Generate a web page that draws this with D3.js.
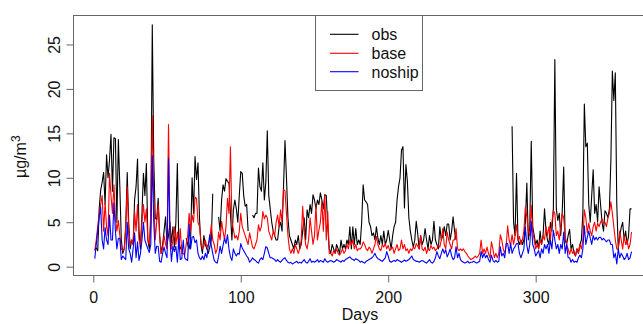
<!DOCTYPE html>
<html>
<head>
<meta charset="utf-8">
<script src="https://cdn.jsdelivr.net/npm/d3@7"></script>
<style>
  body { margin: 0; background: #fff; }
  svg { display: block; font-family: "Liberation Sans", Arial, Helvetica, sans-serif; }
</style>
</head>
<body>
<figure id="chart" style="margin:0"></figure>
<script>
// daily means, day 1..365 (null = missing)
const obs = [
  1.9, 2.1, 1.8, 6.5, 8.6, 9.5, 10.6, 7.0, 12.6, 10.0,
  12.0, 14.9, 8.5, 14.5, 14.4, 5.0, 14.3, 9.0, 3.0, 1.5,
  2.0, 4.5, 10.6, 5.0, 2.0, 3.0, 2.5, 7.5, 9.0, 12.1,
  4.0, 2.0, 6.0, 10.5, 8.0, 11.6, 3.0, 2.0, 5.0, 27.2,
  12.0, 5.5, 5.3, 7.7, 3.5, 1.5, 2.5, 4.0, 5.6, 2.5,
  3.5, 5.0, 2.7, 4.5, 2.2, 5.0, 11.6, 2.5, 2.0, 2.5,
  null, null, 3.2, 2.5, 2.0, 3.0, 10.0, 6.0, 12.4, 9.8,
  11.7, 5.5, 2.5, 1.5, 3.5, 2.5, 2.0, 1.5, 2.2, 3.0,
  8.2, null, null, null, 5.6, 4.0, 7.5, 9.2, 8.5, 9.9,
  9.6, 9.4, 6.0, 3.0, 6.4, 7.5, 6.5, 5.0, 8.0, 10.7,
  10.5, 8.0, 6.8, 7.0, 4.0, null, null, 5.8, 5.5, 6.0,
  6.0, 11.1, 9.0, 8.5, 11.7, 7.5, 9.5, 15.3, 8.0, 6.5,
  5.0, 4.0, 3.5, 3.0, 3.0, 4.5, 5.0, 4.0, 9.0, 14.2,
  10.0, 5.5, 3.5, 3.0, 2.5, 2.0, 3.0, 2.5, 3.5, 2.0,
  2.5, 4.0, 5.5, 3.0, 6.4, 5.5, 7.0, 6.0, 8.1, 7.5,
  6.5, 7.5, 7.0, 8.3, 7.5, 6.5, 8.1, 8.0, 4.5, 2.0,
  1.5, 2.5, 2.0, 1.5, 2.5, 2.0, 1.5, 3.0, 2.0, 2.5,
  2.0, 3.0, 2.5, 4.5, 2.0, 4.5, 2.5, 4.3, 2.5, 3.0,
  2.5, 5.0, 9.2, 7.5, 7.3, 7.0, 5.0, 4.5, 3.5, 3.8,
  3.0, 4.5, 3.2, 2.5, 3.5, 2.5, 4.0, 2.5, 3.0, 4.1,
  3.0, 2.0, 3.5, 4.5, 5.0, 7.5, 9.0, 10.0, 13.1, 13.5,
  6.6, 11.5, 9.6, 5.5, 4.0, 3.0, 2.2, 3.0, 5.1, 3.7,
  2.0, 3.5, 2.5, 3.0, 4.3, 3.0, 2.0, 3.5, 2.5, 3.0,
  5.1, 3.0, 2.5, 2.0, 4.5, 3.0, 3.5, 4.5, 3.5, 4.8,
  4.8, 3.0, 4.0, 5.6, 4.0, 3.0, null, null, null, null,
  null, null, null, null, null, null, null, null, null, null,
  null, null, null, null, null, null, null, null, null, null,
  null, null, null, null, null, null, null, null, null, null,
  null, null, null, 15.8, 5.0, 3.5, 10.5, 3.0, 2.5, 3.0,
  2.5, 3.0, 5.0, 9.4, 3.0, 4.5, 14.1, 4.5, 3.5, 2.5,
  3.0, 2.0, 4.0, 2.5, 3.5, 6.5, 4.0, 3.0, 2.5, 5.0,
  4.0, 6.5, 23.3, 6.5, 5.2, 6.0, 3.5, 6.1, 11.2, 3.0,
  2.5, 3.5, 4.2, 2.0, 2.5, 1.5, 1.2, 2.0, 1.5, 2.5,
  3.0, 6.0, 18.3, 13.5, 13.9, 7.0, 5.0, 8.0, 10.9, 6.0,
  7.0, 5.0, 9.0, 7.0, 5.0, 4.0, 6.3, 6.0, 5.5, 6.5,
  12.0, 22.0, 18.7, 21.8, 7.0, 2.0, 3.5, 4.4, 5.0, 3.0,
  4.0, 2.5, 3.5, 6.5, 6.5
]

const base = [
  1.8, 3.0, 4.5, 6.0, 7.0, 8.0, 4.0, 7.2, 4.5, 3.5,
  10.5, 8.0, 6.0, 9.2, 5.5, 4.0, 5.2, 3.5, 2.0, 1.8,
  2.0, 4.5, 9.0, 4.0, 2.5, 3.0, 2.5, 6.2, 4.0, 7.0,
  3.0, 2.5, 5.0, 7.0, 5.0, 6.5, 3.0, 2.5, 6.0, 17.0,
  8.0, 3.0, 5.0, 7.0, 3.5, 1.5, 2.0, 3.5, 2.5, 2.0,
  16.0, 4.0, 2.0, 3.0, 4.5, 2.5, 3.9, 2.0, 4.3, 1.5,
  1.5, 1.3, 2.5, 3.5, 6.0, 4.0, 5.8, 5.0, 7.8, 7.7,
  5.0, 4.5, 2.8, 2.0, 2.3, 3.0, 2.2, 2.5, 3.0, 4.7,
  3.0, 2.5, 1.5, 2.0, 3.9, 3.0, 5.1, 4.0, 3.0, 4.5,
  7.7, 6.0, 13.5, 5.0, 4.2, 3.2, 3.5, 3.0, 4.0, 6.0,
  4.5, 4.0, 3.5, 3.0, 2.5, 3.8, 3.0, 2.2, 2.0, 2.5,
  3.0, 4.7, 4.0, 4.5, 6.2, 5.4, 5.8, 5.5, 4.0, 3.5,
  3.0, 4.0, 3.5, 5.0, 5.8, 4.5, 6.4, 5.0, 8.7, 8.5,
  6.0, 3.5, 2.0, 1.5, 2.0, 1.5, 2.5, 2.0, 1.5, 2.0,
  3.0, 6.8, 4.0, 2.5, 2.0, 3.0, 5.5, 4.0, 2.5, 3.5,
  6.9, 3.0, 4.1, 5.0, 7.4, 4.0, 8.1, 3.0, 6.2, 1.5,
  1.5, 1.2, 1.8, 1.5, 2.0, 1.5, 1.3, 1.6, 2.0, 1.5,
  1.8, 2.5, 2.0, 3.0, 2.5, 3.0, 2.0, 2.5, 1.8, 2.0,
  2.0, 2.2, 2.8, 2.5, 2.0, 1.8, 2.2, 2.0, 1.5, 2.0,
  2.5, 3.4, 2.5, 2.0, 1.8, 2.5, 2.2, 2.6, 2.0, 2.4,
  1.8, 2.0, 2.2, 1.5, 2.0, 2.5, 1.8, 2.0, 3.0, 2.0,
  2.5, 1.8, 2.0, 1.5, 2.0, 1.8, 2.2, 2.0, 2.6, 2.3,
  2.0, 3.5, 2.0, 1.8, 2.2, 1.5, 2.0, 1.8, 2.4, 2.0,
  2.2, 1.8, 2.0, 2.4, 2.2, 3.0, 4.3, 2.5, 2.0, 3.9,
  3.0, 2.5, 2.0, 3.0, 3.0, 4.3, 2.0, 1.8, 2.0, 1.8,
  2.0, 1.7, 1.5, 1.2, 1.0, 0.8, 0.9, 1.0, 1.2, 1.0,
  1.2, 1.5, 3.0, 1.5, 2.0, 1.5, 2.2, 1.5, 1.0, 2.8,
  2.0, 1.0, 1.5, 1.0, 1.5, 3.6, 3.0, 2.0, 1.5, 2.4,
  4.6, 3.0, 2.4, 3.6, 2.5, 3.4, 4.7, 3.0, 3.4, 2.5,
  3.0, 4.0, 6.75, 5.6, 4.0, 3.5, 6.9, 4.0, 3.0, 2.0,
  2.5, 2.0, 3.0, 2.5, 3.5, 3.0, 4.5, 3.5, 4.5, 3.0,
  5.0, 6.3, 6.0, 3.5, 4.0, 3.0, 4.5, 6.0, 5.5, 3.5,
  2.5, 2.0, 1.4, 2.0, 1.5, 1.8, 1.2, 2.0, 1.5, 2.5,
  2.0, 3.0, 6.4, 5.5, 3.8, 4.9, 4.0, 3.5, 4.5, 5.0,
  4.0, 4.9, 4.5, 5.0, 5.4, 4.9, 5.0, 4.5, 5.5, 6.0,
  7.3, 6.0, 4.5, 3.0, 2.0, 1.9, 4.0, 3.0, 2.0, 3.5,
  2.5, 3.0, 2.0, 2.5, 3.9
]

const noship = [
  0.9, 2.5, 4.0, 5.5, 6.7, 3.0, 2.0, 4.4, 3.0, 2.5,
  5.8, 3.0, 3.0, 7.2, 4.0, 2.0, 3.2, 3.2, 0.8, 1.2,
  1.0, 0.8, 5.0, 2.0, 1.5, 0.5, 2.0, 3.8, 1.0, 2.8,
  0.7, 1.5, 3.0, 5.0, 3.0, 2.5, 2.0, 1.6, 2.5, 12.5,
  5.0, 1.5, 2.3, 2.3, 0.6, 0.5, 1.5, 2.2, 1.5, 1.0,
  12.2, 3.0, 0.6, 2.3, 1.7, 2.3, 0.5, 3.2, 0.8, 0.9,
  3.0, 1.0, 0.8, 0.7, 4.8, 2.0, 3.3, 3.4, 2.7, 3.0,
  1.5, 1.0, 0.8, 1.2, 0.8, 1.5, 1.0, 2.4, 3.6, 2.4,
  1.5, 0.7, 0.5, 0.4, 1.2, 2.3, 1.5, 2.4, 3.2, 2.6,
  3.6, 2.0, 1.1, 0.7, 2.0, 1.5, 1.2, 1.5, 1.4, 2.6,
  2.1, 1.8, 1.5, 1.2, 1.0, 0.5, 0.7, 1.0, 0.8, 0.7,
  0.5, 0.4, 0.8, 1.0, 0.8, 1.5, 2.25, 2.1, 1.5, 1.0,
  1.0, 0.9, 0.8, 0.6, 0.8, 0.6, 0.5, 0.7, 0.9, 1.0,
  0.7, 0.5, 0.4, 0.5, 0.3, 0.4, 0.5, 0.6, 0.4, 0.5,
  0.4, 0.6, 0.8, 0.5, 0.4, 0.6, 0.9, 0.5, 0.6, 0.5,
  0.6, 0.8, 0.5, 0.7, 0.6, 0.5, 0.9, 0.6, 0.5, 0.6,
  0.7, 0.6, 0.5, 0.6, 0.8, 0.7, 0.6, 0.5, 0.7, 0.6,
  0.8, 0.9, 1.0, 1.1, 0.9, 0.8, 0.7, 0.9, 0.8, 0.7,
  0.5, 0.6, 0.5, 0.4, 0.6, 0.7, 0.8, 0.9, 1.0, 1.2,
  1.5, 1.1, 0.9, 0.8, 0.7, 0.6, 0.8, 1.0, 1.7, 1.2,
  0.6, 0.5, 0.6, 0.7, 0.6, 0.8, 0.7, 0.6, 0.5, 0.6,
  0.75, 0.6, 0.7, 0.8, 1.0, 1.2, 0.8, 0.7, 0.6, 0.6,
  0.5, 0.6, 0.7, 0.6, 0.5, 0.4, 0.6, 0.8, 0.5, 0.4,
  0.6, 1.0, 1.7, 1.2, 0.9, 1.5, 2.0, 1.5, 1.9, 1.1,
  1.5, 2.0, 1.2, 0.8, 1.0, 2.25, 1.0, 1.5, 0.8, 0.6,
  0.5, 0.4, 0.5, 0.6, 0.4, 0.5, 0.5, 0.6, 0.5, 0.4,
  0.5, 0.6, 1.7, 1.0, 1.5, 1.0, 1.3, 0.8, 0.5, 1.3,
  0.7, 0.5, 0.7, 0.5, 0.6, 2.25, 1.2, 1.5, 1.0, 2.6,
  2.6, 1.5, 2.6, 1.5, 2.0, 2.25, 2.6, 2.6, 1.5, 1.0,
  1.5, 2.0, 4.5, 2.4, 1.5, 2.5, 5.1, 2.5, 2.0, 1.2,
  1.5, 1.8, 1.0, 2.0, 1.5, 2.5, 2.0, 2.5, 1.5, 3.0,
  2.0, 4.1, 3.0, 2.0, 2.5, 1.5, 2.5, 2.0, 3.9, 1.5,
  2.5, 1.0, 1.0, 0.5, 0.8, 0.5, 0.6, 0.5, 1.0, 1.3,
  1.0, 2.0, 4.6, 2.5, 3.3, 4.0, 3.2, 2.5, 3.5, 3.0,
  3.3, 3.0, 3.3, 3.3, 3.0, 3.2, 3.0, 2.8, 3.0, 3.0,
  2.5, 2.5, 1.0, 1.5, 0.3, 2.0, 1.0, 1.5, 1.2, 0.8,
  1.0, 1.5, 0.8, 1.0, 1.7
]

const seriesNames = ["obs", "base", "noship"]
const seriesColors = ["#000000", "#ff0000", "#0000ff"]
const xTicks = [0, 100, 200, 300]
const yTicks = [0, 5, 10, 15, 20, 25]

const width = 643, height = 324
const margin = {top: 15.3, left: 73.3, bottom: 275.3, right: 653}
const boxColor = "#666"

const svg = d3.select("figure#chart")
  .append("svg")
  .attr("width", width)
  .attr("height", height)

// R style extended ranges (4% padding)
const x = d3.scaleLinear().domain([-13.56, 379.56]).range([margin.left, margin.right])
const y = d3.scaleLinear().domain([-0.97, 28.28]).range([margin.bottom, margin.top])

// lines, obs first so model lines sit on top
const line = d3.line()
  .defined(d => d != null)
  .x((d, i) => x(i + 1))
  .y(d => y(d))

const all = [obs, base, noship]
all.forEach((s, k) => {
  svg.append("path")
    .datum(s)
    .attr("fill", "none")
    .attr("stroke", seriesColors[k])
    .attr("stroke-width", 1.1)
    .attr("stroke-linejoin", "round")
    .attr("d", line)
})

// plot box
svg.append("rect")
  .attr("x", Math.round(margin.left) + 0.5)
  .attr("y", Math.round(margin.top) + 0.5)
  .attr("width", margin.right - margin.left)
  .attr("height", Math.round(margin.bottom) - Math.round(margin.top))
  .attr("fill", "none")
  .attr("stroke", boxColor)

// x axis
const xAxis = svg.append("g")
  .attr("transform", `translate(0, ${Math.round(margin.bottom) + 0.5})`)
  .call(d3.axisBottom(x).tickValues(xTicks).tickSize(7).tickPadding(9.5).tickSizeOuter(0))
xAxis.select(".domain").remove()
xAxis.selectAll("line").attr("stroke", boxColor)
xAxis.selectAll("text")
  .attr("fill", "#111")
  .style("font-size", "16px")
  .style("font-family", "'Liberation Sans', Arial, sans-serif")

// y axis, labels rotated like R's las=0
const yAxis = svg.append("g")
  .attr("transform", `translate(${Math.round(margin.left) + 0.5}, 0)`)
  .call(d3.axisLeft(y).tickValues(yTicks).tickSize(7).tickSizeOuter(0))
yAxis.select(".domain").remove()
yAxis.selectAll("line").attr("stroke", boxColor)
yAxis.selectAll("text")
  .attr("fill", "#111")
  .attr("x", 0)
  .attr("y", -13.5)
  .attr("dy", 0)
  .attr("text-anchor", "middle")
  .attr("transform", "rotate(-90)")
  .style("font-size", "16px")
  .style("font-family", "'Liberation Sans', Arial, sans-serif")

// axis titles
svg.append("text")
  .attr("x", 360)
  .attr("y", 320)
  .attr("text-anchor", "middle")
  .attr("fill", "#111")
  .style("font-size", "16px")
  .text("Days")

const yTitle = svg.append("text")
  .attr("transform", "translate(25.5, 178) rotate(-90)")
  .attr("text-anchor", "start")
  .attr("fill", "#111")
  .style("font-size", "16px")
yTitle.append("tspan").text("µg/m")
yTitle.append("tspan")
  .attr("dy", "-0.5em")
  .style("font-size", "12px")
  .text("3")

// legend
const leg = svg.append("g")
leg.append("rect")
  .attr("x", 315.5)
  .attr("y", 15.5)
  .attr("width", 107)
  .attr("height", 75)
  .attr("fill", "#fff")
  .attr("stroke", boxColor)

const legY = [34.3, 53.3, 71.7]
seriesNames.forEach((name, k) => {
  leg.append("line")
    .attr("x1", 330).attr("x2", 358.5)
    .attr("y1", legY[k]).attr("y2", legY[k])
    .attr("stroke", seriesColors[k])
    .attr("stroke-width", 1.1)
  leg.append("text")
    .attr("x", 371.5)
    .attr("y", legY[k] + 6)
    .attr("fill", "#111")
    .style("font-size", "16px")
    .text(name)
})
</script>
</body>
</html>
